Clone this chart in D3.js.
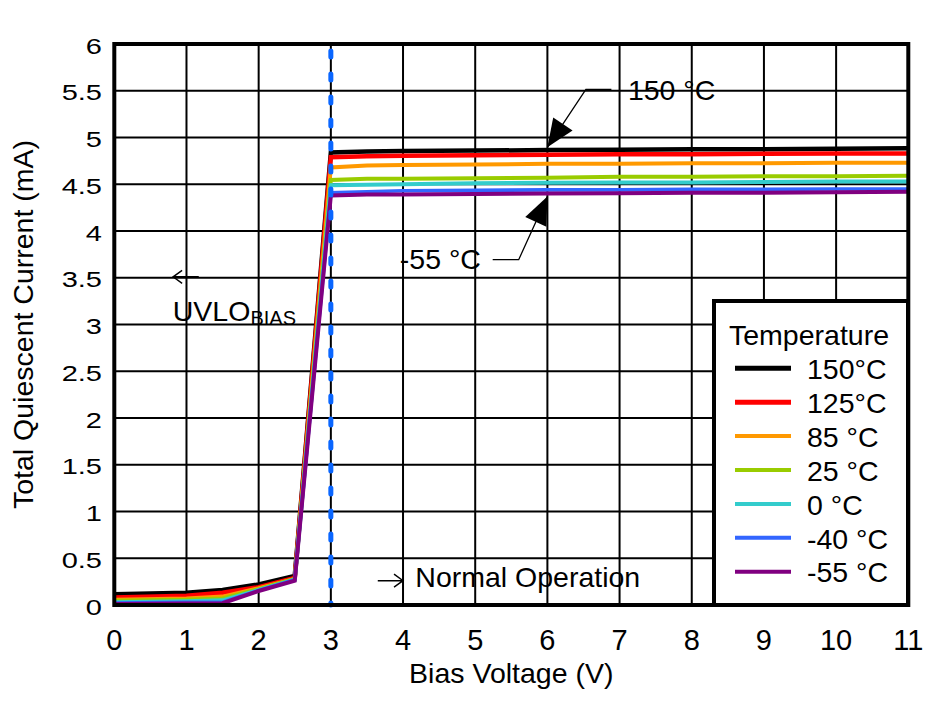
<!DOCTYPE html>
<html>
<head>
<meta charset="utf-8">
<script src="https://cdn.jsdelivr.net/npm/d3@7"></script>
<style>
  html, body { margin: 0; padding: 0; background: #fff; }
  svg { display: block; font-family: "Liberation Sans", Arial, sans-serif; }
</style>
</head>
<body>
<svg id="chart" width="948" height="701"></svg>
<script>
// ---------------- data ----------------
const voltages = [0, 1, 1.5, 2, 2.5, 3, 3.5, 4, 5, 6, 7, 8, 9, 10, 11];
const temps   = ["150°C", "125°C", "85 °C", "25 °C", "0 °C", "-40 °C", "-55 °C"];
const colors  = ["#000000", "#ff0000", "#ff9900", "#99cc00", "#33cccc", "#3366ff", "#800080"];
const widths  = [4.5, 4.5, 4, 4, 4, 3.6, 4];
const i150  = [0.115, 0.13, 0.16, 0.22, 0.31, 4.84, 4.85, 4.855, 4.86, 4.865, 4.87, 4.875, 4.875, 4.88, 4.885];
const i125  = [0.08, 0.10, 0.13, 0.19, 0.29, 4.79, 4.80, 4.805, 4.81, 4.815, 4.82, 4.82, 4.825, 4.83, 4.83];
const i85   = [0.055, 0.07, 0.09, 0.18, 0.28, 4.68, 4.70, 4.705, 4.71, 4.72, 4.72, 4.725, 4.725, 4.73, 4.73];
const i25   = [0.045, 0.055, 0.07, 0.17, 0.28, 4.545, 4.56, 4.56, 4.565, 4.57, 4.58, 4.58, 4.585, 4.585, 4.59];
const i0    = [0.03, 0.04, 0.05, 0.16, 0.27, 4.49, 4.495, 4.50, 4.51, 4.515, 4.52, 4.52, 4.525, 4.53, 4.53];
const im40  = [0.02, 0.03, 0.03, 0.155, 0.27, 4.41, 4.42, 4.43, 4.435, 4.44, 4.44, 4.445, 4.445, 4.45, 4.45];
const im55  = [0.01, 0.015, 0.02, 0.15, 0.26, 4.38, 4.39, 4.39, 4.395, 4.40, 4.405, 4.41, 4.41, 4.415, 4.42];
const series = [i150, i125, i85, i25, i0, im40, im55];
const xTicks = [0, 1, 2, 3, 4, 5, 6, 7, 8, 9, 10, 11];
const yTicks = ["0", "0.5", "1", "1.5", "2", "2.5", "3", "3.5", "4", "4.5", "5", "5.5", "6"];
const uvloVoltage = 3;

// ---------------- layout ----------------
const svg = d3.select("#chart");
const L = 114.3, R = 908.3, T = 44, B = 605;
const x = d3.scaleLinear().domain([0, 11]).range([L, R]);
const y = d3.scaleLinear().domain([0, 6]).range([B, T]);
const FONT = 28.5;

// grid
const grid = svg.append("g").attr("stroke", "#000").attr("stroke-width", 2);
xTicks.forEach(v => grid.append("line").attr("x1", x(v)).attr("x2", x(v)).attr("y1", T).attr("y2", B));
yTicks.forEach(t => grid.append("line").attr("x1", L).attr("x2", R).attr("y1", y(+t)).attr("y2", y(+t)));

// curves
const line = d3.line().x((d, i) => x(voltages[i])).y(d => y(d));
series.forEach((s, k) => {
  svg.append("path").datum(s)
    .attr("d", line)
    .attr("fill", "none")
    .attr("stroke", colors[k])
    .attr("stroke-width", widths[k])
    .attr("stroke-linejoin", "miter");
});

// UVLO dashed line
svg.append("line")
  .attr("x1", x(uvloVoltage)).attr("x2", x(uvloVoltage))
  .attr("y1", T + 7).attr("y2", B)
  .attr("stroke", "#0a66ff").attr("stroke-width", 5)
  .attr("stroke-dasharray", "6 17").attr("stroke-linecap", "round");

// legend box
const lg = svg.append("g");
lg.append("rect").attr("x", 714).attr("y", 301).attr("width", 194).attr("height", 304)
  .attr("fill", "#fff").attr("stroke", "#000").attr("stroke-width", 4);
lg.append("text").attr("x", 729).attr("y", 345).attr("font-size", FONT).text("Temperature");
temps.forEach((t, k) => {
  const yy = 368.3 + k * 33.9;
  lg.append("line").attr("x1", 735).attr("x2", 791).attr("y1", yy).attr("y2", yy)
    .attr("stroke", colors[k]).attr("stroke-width", k < 2 ? 5 : 4);
  lg.append("text").attr("x", 807).attr("y", yy + 10.7).attr("font-size", FONT).text(t);
});

// frame
svg.append("rect").attr("x", L).attr("y", T).attr("width", R - L).attr("height", B - T)
  .attr("fill", "none").attr("stroke", "#000").attr("stroke-width", 4);

// tick labels
xTicks.forEach(v => svg.append("text").attr("x", x(v)).attr("y", 650)
  .attr("text-anchor", "middle").attr("font-size", 29).text(v));
yTicks.forEach(t => svg.append("text")
  .attr("transform", `translate(102,${y(+t) + 9.5}) scale(1,0.77)`)
  .attr("text-anchor", "end").attr("font-size", 29).text(t));

// axis titles
svg.append("text").attr("x", (L + R) / 2).attr("y", 683).attr("text-anchor", "middle")
  .attr("font-size", FONT).text("Bias Voltage (V)");
svg.append("text").attr("transform", `translate(33,${(T + B) / 2}) rotate(-90)`)
  .attr("text-anchor", "middle").attr("font-size", FONT).text("Total Quiescent Current (mA)");

// annotations
const ann = svg.append("g");
function arrowHead(tip, from, len, half) {
  const dx = from[0] - tip[0], dy = from[1] - tip[1];
  const d = Math.hypot(dx, dy), ux = dx / d, uy = dy / d;
  const bx = tip[0] + ux * len, by = tip[1] + uy * len;
  return `M${tip[0]},${tip[1]}L${bx - uy * half},${by + ux * half}L${bx + uy * half},${by - ux * half}Z`;
}
// 150 °C
{
  const tip = [x(6), y(4.895)];
  const elbow = [tip[0] + 38.5, tip[1] - 58];
  const end = [tip[0] + 64, tip[1] - 58];
  ann.append("path").attr("d", `M${end[0]},${end[1]}H${elbow[0]}L${tip[0]},${tip[1]}`)
    .attr("fill", "none").attr("stroke", "#000").attr("stroke-width", 1.3);
  ann.append("path").attr("d", arrowHead(tip, elbow, 28, 11.6)).attr("fill", "#000");
  ann.append("text").attr("x", tip[0] + 80.5).attr("y", tip[1] - 47.5).attr("font-size", FONT).text("150 °C");
}
// -55 °C
{
  const tip = [x(6), y(4.37)];
  const elbow = [tip[0] - 28.7, tip[1] + 63.3];
  const end = [tip[0] - 54.7, tip[1] + 63.3];
  ann.append("path").attr("d", `M${end[0]},${end[1]}H${elbow[0]}L${tip[0]},${tip[1]}`)
    .attr("fill", "none").attr("stroke", "#000").attr("stroke-width", 1.3);
  ann.append("path").attr("d", arrowHead(tip, elbow, 28, 11.6)).attr("fill", "#000");
  ann.append("text").attr("x", tip[0] - 66.5).attr("y", tip[1] + 73).attr("text-anchor", "end")
    .attr("font-size", FONT).text("-55 °C");
}
// UVLO arrow + label
{
  const ay = y(3.51), ax0 = x(0.815), ax1 = x(1.17);
  ann.append("path").attr("d", `M${ax1},${ay}H${ax0 + 1}M${ax0 + 9},${ay - 6.5}L${ax0},${ay}L${ax0 + 9},${ay + 6.5}`)
    .attr("fill", "none").attr("stroke", "#000").attr("stroke-width", 1.4);
  const t = ann.append("text").attr("x", x(0.81)).attr("y", y(3.04)).attr("font-size", FONT);
  t.append("tspan").text("UVLO");
  t.append("tspan").attr("dy", 4).attr("font-size", 20).text("BIAS");
}
// Normal operation arrow + label
{
  const ay = y(0.26), ax0 = x(3.65), ax1 = x(4.0);
  ann.append("path").attr("d", `M${ax0},${ay}H${ax1 - 1}M${ax1 - 9},${ay - 6.5}L${ax1},${ay}L${ax1 - 9},${ay + 6.5}`)
    .attr("fill", "none").attr("stroke", "#000").attr("stroke-width", 1.4);
  ann.append("text").attr("x", x(4.17)).attr("y", y(0.196)).attr("font-size", FONT).text("Normal Operation");
}
</script>
</body>
</html>
